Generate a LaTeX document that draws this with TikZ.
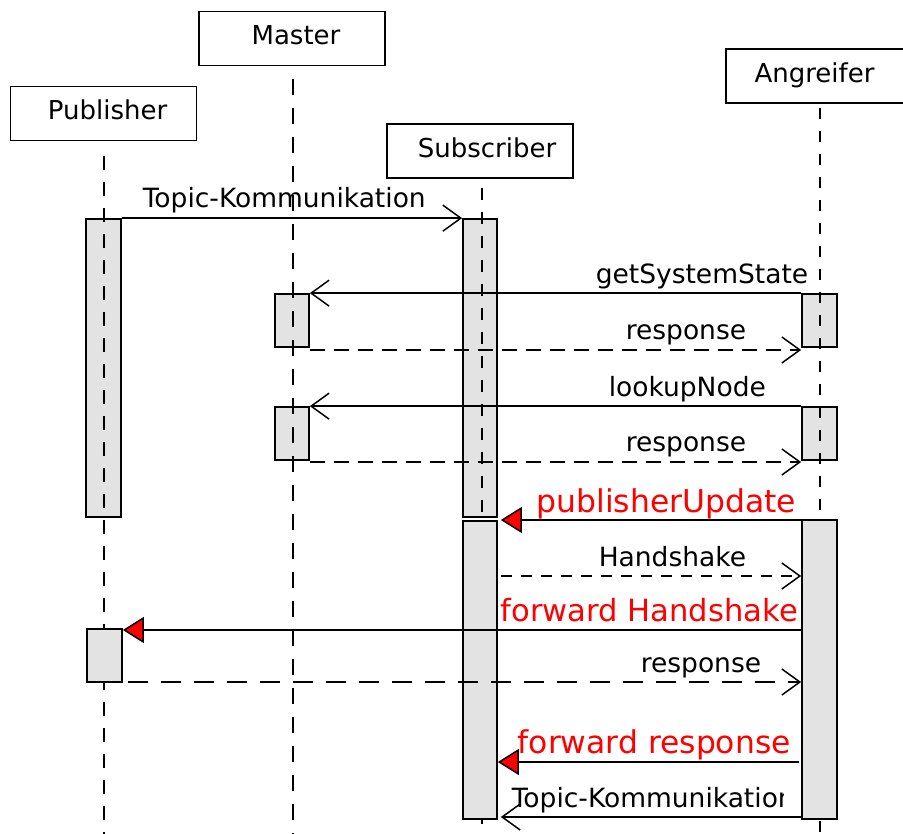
\documentclass[tikz,border=0pt]{standalone}
\usepackage{fontspec}
\setmainfont{DejaVu Sans}
\usetikzlibrary{arrows.meta}
\definecolor{actfill}{RGB}{227,227,227}
\definecolor{msgred}{RGB}{255,0,0}
\begin{document}
\begin{tikzpicture}[x=1pt,y=-1pt,line width=1.5pt,
  header/.style={draw, line width=1.8pt, minimum width=186pt, minimum height=54pt, inner sep=0pt,
    text height=19pt, text depth=6pt, font=\fontsize{26}{30}\selectfont},
  act/.style={draw, line width=1.7pt, fill=actfill, inner sep=0pt, minimum width=35pt},
  lifeline/.style={line width=1.5pt},
  msglabel/.style={inner sep=0pt, anchor=base west, font=\fontsize{26.5}{30}\selectfont},
  redlabel/.style={inner sep=0pt, anchor=base west, text=msgred, font=\fontsize{31.4}{36}\selectfont},
  callmsg/.style={-{Straight Barb[length=18pt,width=26pt]}},
  replymsg/.style={-{Straight Barb[length=18pt,width=26pt]}},
  attackmsg/.style={-{Triangle[length=21pt,width=26pt,fill=msgred]}}]
\useasboundingbox (0,0) rectangle (903,834);

% participants
\node[header] (pub) at (103.5,113.5) {\hspace*{8pt}Publisher};
\node[header] (mas) at (292,38.5) {\hspace*{8pt}Master};
\node[header] (sub) at (480,151) {\hspace*{14pt}Subscriber};
\node[header] (ang) at (819,76) {Angreifer\hspace*{9pt}};

% bottom of the lifelines
\coordinate (bottom) at (0,840);

% first activations (lifelines run over them)
\node[act, minimum height=298pt] (pa1) at (103.5,368) {};
\node[act, minimum width=34pt, minimum height=53pt] (ma1) at (292,320.5) {};
\node[act, minimum width=34pt, minimum height=53pt] (ma2) at (292,433.5) {};
\node[act, minimum width=34pt, minimum height=298pt] (sa1) at (480,368) {};
\node[act, minimum height=53pt] (aa1) at (819.5,320.5) {};
\node[act, minimum height=53pt] (aa2) at (819.5,433.5) {};

% lifelines
\draw[lifeline, dash pattern=on 14pt off 12pt]
  ([xshift=0.5pt,yshift=-15pt]pub.south) -- ([xshift=0.5pt]pub.south |- bottom);
\draw[lifeline, dash pattern=on 16pt off 13pt]
  ([xshift=1pt,yshift=-13pt]mas.south) -- ([xshift=1pt]mas.south |- bottom);
\draw[lifeline, dash pattern=on 12pt off 12pt]
  ([xshift=2pt,yshift=-9pt]sub.south) -- ([xshift=2pt]sub.south |- bottom);
\draw[lifeline, dash pattern=on 11pt off 12pt]
  ([xshift=1pt,yshift=-4pt]ang.south) -- ([xshift=1pt]ang.south |- bottom);

% later activations (drawn over the lifelines)
\node[act, minimum width=34pt, minimum height=298pt] (sa2) at (480,670) {};
\node[act, minimum height=299pt] (aa3) at (819.5,669.5) {};
\node[act, minimum height=53pt] (pa2) at (104.5,655.5) {};

% message levels
\coordinate (yResp1) at (0,350);
\coordinate (yResp2) at (0,462);
\coordinate (yUpd) at (0,520);
\coordinate (yHand) at (0,576);
\coordinate (yFwdH) at (0,630);
\coordinate (yResp3) at (0,682);
\coordinate (yFwdR) at (0,762);
\coordinate (yTopic) at (0,817);

% messages
\draw[callmsg] (pa1.north east) -- (sa1.north west);
\node[msglabel] (lTopic1) at (142,208) {Topic-Kommunikation};

\draw[callmsg] (aa1.north west) -- (ma1.north east);
\node[msglabel] (lGet) at (595,284) {getSystemState};

\draw[replymsg, dash pattern=on 15pt off 9pt] (ma1.east |- yResp1) -- (aa1.west |- yResp1);
\node[msglabel] (lResp1) at (625,340) {response};

\draw[callmsg] (aa2.north west) -- (ma2.north east);
\node[msglabel] (lLookup) at (608,397) {lookupNode};

\draw[replymsg, dash pattern=on 15pt off 9pt] (ma2.east |- yResp2) -- (aa2.west |- yResp2);
\node[msglabel] (lResp2) at (625,452) {response};

\draw[attackmsg] (aa3.west |- yUpd) -- ([xshift=3pt]sa2.east |- yUpd);
\node[redlabel] (lUpd) at (536,512) {publisherUpdate};

\draw[replymsg, dash pattern=on 11pt off 9pt] ([xshift=3pt]sa2.east |- yHand) -- (aa3.west |- yHand);
\node[msglabel] (lHand) at (598,566) {Handshake};

\draw[attackmsg] (aa3.west |- yFwdH) -- (pa2.east |- yFwdH);
\node[redlabel, font=\fontsize{30.6}{36}\selectfont] (lFwdH) at (500,621) {forward Handshake};

\draw[replymsg, dash pattern=on 20pt off 13pt, dash phase=-5pt] (pa2.east |- yResp3) -- (aa3.west |- yResp3);
\node[msglabel] (lResp3) at (640,672) {response};

\draw[attackmsg] ([xshift=-2pt]aa3.west |- yFwdR) -- (sa2.east |- yFwdR);
\node[redlabel] (lFwdR) at (517,753) {forward response};

\draw[callmsg] (aa3.west |- yTopic) -- ([xshift=3pt]sa2.east |- yTopic);
\begin{scope}
  \clip (500,770) rectangle (783,834);
  \node[msglabel] (lTopic2) at (511,807) {Topic-Kommunikation};
\end{scope}
\end{tikzpicture}
\end{document}
